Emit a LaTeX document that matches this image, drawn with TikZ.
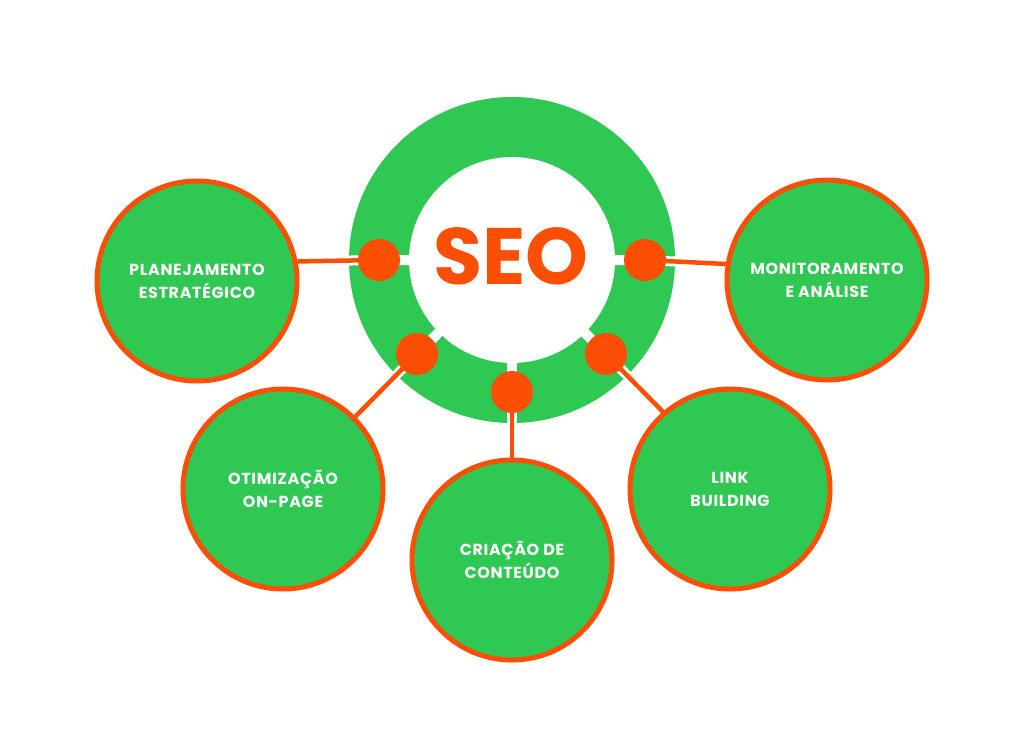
\documentclass[tikz,border=0pt]{standalone}
\usepackage{fontspec}
\setmainfont{Poppins}
\newfontfamily\labelfont{Poppins}[LetterSpace=4]
\definecolor{sgreen}{RGB}{46,200,82}
\definecolor{sorange}{RGB}{252,78,4}
\pgfdeclarelayer{bg}
\pgfdeclarelayer{mid}
\pgfsetlayers{bg,mid,main}
\begin{document}
\begin{tikzpicture}[x=1pt,y=-1pt,
  sat/.style={circle, fill=sgreen, draw=sorange, line width=5pt, minimum size=200pt, inner sep=0pt,
    text=white, font=\labelfont\fontsize{16}{23}\selectfont\bfseries, align=center},
  dotnode/.style={circle, fill=sorange, minimum size=42pt, inner sep=0pt},
  link/.style={draw=sorange, line width=4.5pt},
  gap/.style={draw=white, line width=10pt}]
\useasboundingbox (0,0) rectangle (1024,737);
\coordinate (c) at (512,260);
% satellites
\node[sat] (plan) at (197,281) {PLANEJAMENTO\\ESTRATÉGICO};
\node[sat] (mon)  at (827,280) {MONITORAMENTO\\E ANÁLISE};
\node[sat] (otim) at (283,489) {OTIMIZAÇÃO\\ON-PAGE};
\node[sat] (cria) at (512,560) {CRIAÇÃO DE\\CONTEÚDO};
\node[sat] (link) at (730,489) {LINK\\BUILDING};
% dots
\node[dotnode] (d1) at (379,260) {};
\node[dotnode] (d2) at (645,260) {};
\node[dotnode] (d3) at (417,354) {};
\node[dotnode] (d4) at (512,392) {};
\node[dotnode] (d5) at (606,354) {};
% title
\node[text=sorange, font=\fontsize{80}{80}\selectfont\bfseries, inner sep=0pt] (seo) at (511,256) {SEO};
\begin{pgfonlayer}{bg}
  \fill[white] (0,0) rectangle (1024,737);
  \node[circle, fill=sgreen, minimum size=326pt, inner sep=0pt] (ring) at (c) {};
  \node[circle, fill=white, minimum size=206pt, inner sep=0pt] (hub) at (c) {};
\end{pgfonlayer}
\begin{pgfonlayer}{mid}
  \draw[gap] (c) -- (d1.center) -- (plan.11);
  \draw[gap] (c) -- (d2.center) -- (mon.171);
  \draw[gap] (c) -- (d3.center) -- (otim.45);
  \draw[gap] (c) -- (d4.center) -- (cria.north);
  \draw[gap] (c) -- (d5.center) -- (link.131);
  \draw[link] (d1.center) -- (plan.11);
  \draw[link] (d2.center) -- (mon.171);
  \draw[link] (d3.center) -- (otim.45);
  \draw[link] (d4.center) -- (cria.north);
  \draw[link] (d5.center) -- (link.131);
\end{pgfonlayer}
\end{tikzpicture}
\end{document}
